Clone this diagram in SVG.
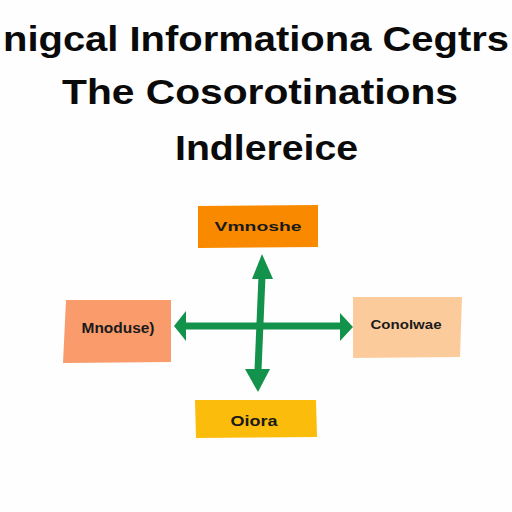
<svg xmlns="http://www.w3.org/2000/svg" width="512" height="512" viewBox="0 0 512 512">
<defs>
<style>
.title{font-family:"Liberation Sans",Arial,sans-serif;font-weight:bold;font-size:35px;fill:#0a0a0a;text-anchor:middle}
.lbl{font-family:"Liberation Sans",Arial,sans-serif;font-weight:bold;fill:#1a1a1a;text-anchor:middle;dominant-baseline:central}
.arr{stroke:#12924A;stroke-width:7;fill:none;stroke-linecap:butt}
.head{fill:#12924A}
</style>
</defs>
<rect width="512" height="512" fill="#fefefe"/>
<g id="title">
<text class="title" x="256" y="51" textLength="506" lengthAdjust="spacingAndGlyphs">nigcal Informationa Cegtrs</text>
<text class="title" x="260" y="104" textLength="396" lengthAdjust="spacingAndGlyphs">The Cosorotinations</text>
<text class="title" x="266.5" y="160" textLength="183" lengthAdjust="spacingAndGlyphs">Indlereice</text>
</g>
<g id="connectors">
<line class="arr" x1="262" y1="276" x2="258" y2="370"/>
<polygon class="head" points="262,254 273,279 252,279"/>
<polygon class="head" points="258,392 245,369 270,369"/>
<line class="arr" x1="184" y1="326" x2="342" y2="326"/>
<polygon class="head" points="174,326 186,311 186,341"/>
<polygon class="head" points="353,327 340,313 340,341"/>
</g>
<g id="node-top">
<polygon points="198,206 318,205 318,247 198,248" fill="#F98A00"/>
<text class="lbl" x="258" y="226" font-size="13" textLength="87" lengthAdjust="spacingAndGlyphs">Vmnoshe</text>
</g>
<g id="node-left">
<polygon points="66,300 171,300 171,362 63,363" fill="#F99B6B"/>
<text class="lbl" x="118" y="328" font-size="14" textLength="73" lengthAdjust="spacingAndGlyphs">Mnoduse)</text>
</g>
<g id="node-right">
<polygon points="353,297 462,297 460,357 353,358" fill="#FCCB9C"/>
<text class="lbl" x="406" y="324" font-size="13" textLength="71" lengthAdjust="spacingAndGlyphs">Conolwae</text>
</g>
<g id="node-bottom">
<polygon points="195,400 316,400 317,437 196,438" fill="#FBBC0C"/>
<text class="lbl" x="254" y="420" font-size="15" textLength="47" lengthAdjust="spacingAndGlyphs">Oiora</text>
</g>
</svg>
